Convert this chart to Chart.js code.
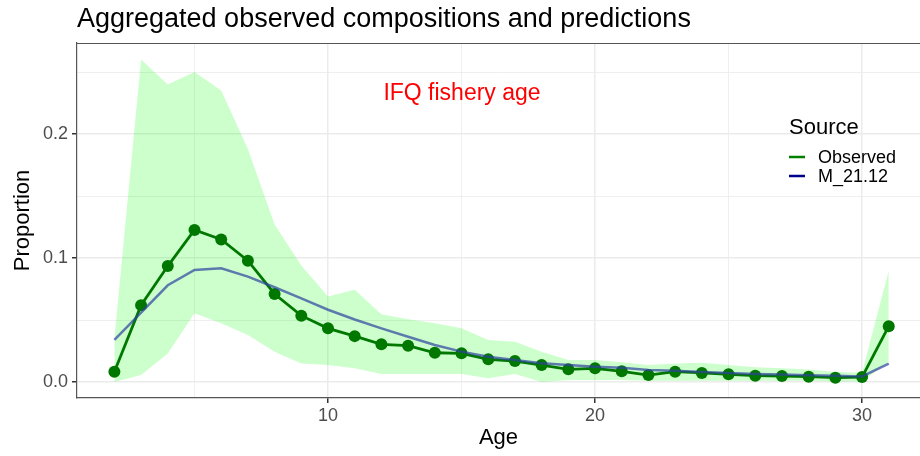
<!DOCTYPE html>
<html>
<head>
<meta charset="utf-8">
<script src="https://cdn.jsdelivr.net/npm/chart.js@4.4.1/dist/chart.umd.min.js"></script>
<style>
  html, body { margin: 0; padding: 0; background: #fff; overflow: hidden; }
  #wrap { width: 920px; height: 456px; }
</style>
</head>
<body>
<div id="wrap"><canvas id="chart01" width="920" height="456"></canvas></div>
<script>
// ages and proportions
const ages = [2, 3, 4, 5, 6, 7, 8, 9, 10, 11, 12, 13, 14, 15, 16, 17, 18, 19, 20, 21, 22, 23, 24, 25, 26, 27, 28, 29, 30, 31];
const observed = [0.0083, 0.062, 0.0935, 0.1226, 0.115, 0.0978, 0.071, 0.0535, 0.0433, 0.037, 0.0304, 0.0293, 0.0236, 0.0231, 0.0183, 0.0169, 0.0137, 0.0102, 0.011, 0.0086, 0.0056, 0.0083, 0.0073, 0.0062, 0.0051, 0.0048, 0.0043, 0.0035, 0.004, 0.045];
const predicted = [0.034, 0.056, 0.078, 0.0903, 0.0917, 0.085, 0.0764, 0.0675, 0.0583, 0.0504, 0.0433, 0.0365, 0.0298, 0.0245, 0.0204, 0.0177, 0.0151, 0.0137, 0.0124, 0.0114, 0.0097, 0.009, 0.008, 0.0072, 0.0065, 0.006, 0.0055, 0.005, 0.0045, 0.0148];
const upper = [0.035, 0.26, 0.24, 0.25, 0.235, 0.188, 0.127, 0.094, 0.069, 0.0745, 0.0546, 0.0506, 0.0473, 0.0433, 0.0339, 0.0325, 0.0245, 0.0177, 0.0177, 0.016, 0.0137, 0.015, 0.0156, 0.0137, 0.012, 0.011, 0.01, 0.008, 0.0075, 0.09];
const lower = [0.0, 0.0056, 0.023, 0.0554, 0.0473, 0.038, 0.0245, 0.015, 0.0137, 0.011, 0.0065, 0.0065, 0.0065, 0.0065, 0.003, 0.0065, 0.0, 0.0016, 0.0016, 0.0016, 0.001, 0.001, 0.001, 0.001, 0.001, 0.001, 0.001, 0.0005, 0.0005, 0.0164];

const xTicks = [5, 10, 15, 20, 25, 30];
const xMajor = [10, 20, 30];
const yTicks = [0, 0.05, 0.1, 0.15, 0.2, 0.25];
const yMajor = [0, 0.1, 0.2];

const seriesNames = ["Observed", "M_21.12"];
const seriesKeyColors = ["#008000", "#00008b"];

const FONT = "'Liberation Sans', Arial, Helvetica, sans-serif";
Chart.defaults.font.family = FONT;

const toPoints = (arr) => ages.map((a, i) => ({ x: a, y: arr[i] }));
const isMajor = (list, v) => list.some((m) => Math.abs(m - v) < 1e-9);

const decorations = {
  id: "decorations",
  afterDraw(chart) {
    const ctx = chart.ctx;
    const area = chart.chartArea;
    ctx.save();
    // top panel border
    ctx.strokeStyle = "#555";
    ctx.lineWidth = 1.2;
    ctx.beginPath();
    ctx.moveTo(area.left, area.top + 0.5);
    ctx.lineTo(area.right, area.top + 0.5);
    ctx.stroke();

    // plot title
    ctx.fillStyle = "#000";
    ctx.font = "27px " + FONT;
    ctx.textAlign = "left";
    ctx.textBaseline = "alphabetic";
    ctx.fillText("Aggregated observed compositions and predictions", 77, 27);

    // annotation
    ctx.fillStyle = "#ff0000";
    ctx.font = "23px " + FONT;
    ctx.textAlign = "center";
    ctx.textBaseline = "middle";
    ctx.fillText("IFQ fishery age", 462, 94);

    // legend
    ctx.fillStyle = "#000";
    ctx.font = "22px " + FONT;
    ctx.textAlign = "left";
    ctx.fillText("Source", 789, 128);
    ctx.font = "18px " + FONT;
    const rows = [157, 176];
    seriesNames.forEach((name, i) => {
      ctx.strokeStyle = seriesKeyColors[i];
      ctx.lineWidth = 2.5;
      ctx.beginPath();
      ctx.moveTo(789, rows[i]);
      ctx.lineTo(805, rows[i]);
      ctx.stroke();
      ctx.fillStyle = "#000";
      ctx.fillText(name, 818, rows[i] + 1);
    });
    ctx.restore();
  },
};

const ctx01 = document.getElementById("chart01").getContext("2d");
const config = {
  type: "line",
  data: {
    datasets: [
      {
        label: "M_21.12",
        data: toPoints(predicted),
        borderColor: "rgba(45, 65, 160, 0.7)",
        borderWidth: 2.5,
        pointRadius: 0,
        fill: false,
        tension: 0,
      },
      {
        label: "Observed",
        data: toPoints(observed),
        borderColor: "#007800",
        backgroundColor: "#007800",
        borderWidth: 2.8,
        pointRadius: 6,
        pointBorderWidth: 0,
        fill: false,
        tension: 0,
      },
      {
        label: "upper",
        data: toPoints(upper),
        borderWidth: 0,
        borderColor: "rgba(0,0,0,0)",
        backgroundColor: "rgba(0, 255, 0, 0.2)",
        pointRadius: 0,
        fill: "+1",
        tension: 0,
      },
      {
        label: "lower",
        data: toPoints(lower),
        borderWidth: 0,
        borderColor: "rgba(0,0,0,0)",
        pointRadius: 0,
        fill: false,
        tension: 0,
      },
    ],
  },
  options: {
    responsive: false,
    animation: false,
    layout: { autoPadding: false, padding: { top: 43, left: 0, right: 0, bottom: 0 } },
    plugins: {
      legend: { display: false },
      title: { display: false },
      tooltip: { enabled: false },
    },
    scales: {
      x: {
        type: "linear",
        min: 0.6,
        max: 32.17,
        afterFit(scale) {
          scale.height = 58;
          scale.paddingLeft = 0;
          scale.paddingRight = 0;
        },
        afterBuildTicks(scale) {
          scale.ticks = xTicks.map((v) => ({ value: v }));
        },
        border: { display: true, color: "#555", width: 1.2 },
        grid: {
          color: "#ebebeb",
          lineWidth: (c) => (isMajor(xMajor, c.tick.value) ? 1.5 : 0.8),
          tickLength: 5,
          tickColor: (c) => (isMajor(xMajor, c.tick.value) ? "#333" : "rgba(0,0,0,0)"),
        },
        ticks: {
          autoSkip: false,
          maxRotation: 0,
          padding: 2,
          color: "#4d4d4d",
          font: { size: 18 },
          callback: (v) => (isMajor(xMajor, v) ? String(v) : ""),
        },
        title: {
          display: true,
          text: "Age",
          color: "#000",
          font: { size: 22 },
          padding: { top: 0, bottom: 5 },
        },
      },
      y: {
        type: "linear",
        min: -0.0129,
        max: 0.2734,
        afterFit(scale) {
          scale.width = 77;
          scale.paddingTop = 0;
          scale.paddingBottom = 0;
        },
        afterBuildTicks(scale) {
          scale.ticks = yTicks.map((v) => ({ value: v }));
        },
        border: { display: true, color: "#555", width: 1.2 },
        grid: {
          color: "#ebebeb",
          lineWidth: (c) => (isMajor(yMajor, c.tick.value) ? 1.5 : 0.8),
          tickLength: 5,
          tickColor: (c) => (isMajor(yMajor, c.tick.value) ? "#333" : "rgba(0,0,0,0)"),
        },
        ticks: {
          autoSkip: false,
          padding: 4,
          color: "#4d4d4d",
          font: { size: 18 },
          callback: (v) => (isMajor(yMajor, v) ? v.toFixed(1) : ""),
        },
        title: {
          display: true,
          text: "Proportion",
          color: "#000",
          font: { size: 22 },
          padding: { top: 10, bottom: 0 },
        },
      },
    },
  },
  plugins: [decorations],
};
const myChart01 = new Chart(ctx01, config);
</script>
</body>
</html>
